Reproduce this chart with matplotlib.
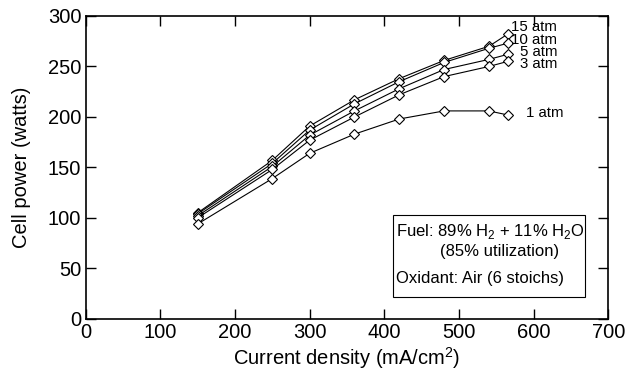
import matplotlib
matplotlib.use("Agg")
import matplotlib.pyplot as plt
from matplotlib.patches import Rectangle

plt.rcParams['font.family'] = ['Liberation Sans', 'DejaVu Sans']
plt.rcParams['mathtext.fontset'] = 'custom'
plt.rcParams['mathtext.rm'] = 'Liberation Sans'

# current density (mA/cm2) and cell power (watts) per pressure
current = [150, 250, 300, 360, 420, 480, 540, 565]
power_15 = [105, 157, 191, 217, 238, 256, 270, 282]
power_10 = [104, 154, 187, 213, 235, 254, 268, 273]
power_5 = [102, 151, 182, 206, 228, 247, 257, 262]
power_3 = [100, 148, 177, 200, 222, 240, 250, 255]
power_1 = [94, 139, 164, 183, 198, 206, 206, 202]

series = [power_15, power_10, power_5, power_3, power_1]
labels = ["15 atm", "10 atm", "5 atm", "3 atm", "1 atm"]
label_x = [570, 570, 582, 582, 590]
label_y = [289, 276, 264, 252, 204]

fig = plt.figure(figsize=(6.26, 3.77), dpi=100)
ax = fig.add_axes([0.1366, 0.154, 0.8354, 0.8036])

for p in series:
    ax.plot(current, p, color='black', lw=0.8, marker='D', markersize=5.5,
            markerfacecolor='white', markeredgecolor='black', markeredgewidth=0.8)

for lab, lx, ly in zip(labels, label_x, label_y):
    ax.text(lx, ly, lab, fontsize=10.8, va='center', ha='left')

ax.set_xlim(0, 700)
ax.set_ylim(0, 300)
ax.set_xticks(range(0, 701, 100))
ax.set_yticks(range(0, 301, 50))
ax.tick_params(direction='in', top=True, right=True, length=7, width=1,
               labelsize=14.5, pad=3)
for s in ax.spines.values():
    s.set_linewidth(1.2)

ax.set_xlabel("Current density (mA/cm$^2$)", fontsize=14.5, labelpad=2)
ax.set_ylabel("Cell power (watts)", fontsize=14.5, labelpad=12)

# condition box
ax.add_patch(Rectangle((411, 22), 258, 81, facecolor='white', edgecolor='black', lw=0.8, zorder=3))
ax.text(416, 86.5, "Fuel: 89% H$_2$ + 11% H$_2$O", fontsize=12, va='center', ha='left', zorder=4)
ax.text(474, 66.5, "(85% utilization)", fontsize=12, va='center', ha='left', zorder=4)
ax.text(415, 40.5, "Oxidant: Air (6 stoichs)", fontsize=12, va='center', ha='left', zorder=4)

fig.savefig("out.png", dpi=100)
